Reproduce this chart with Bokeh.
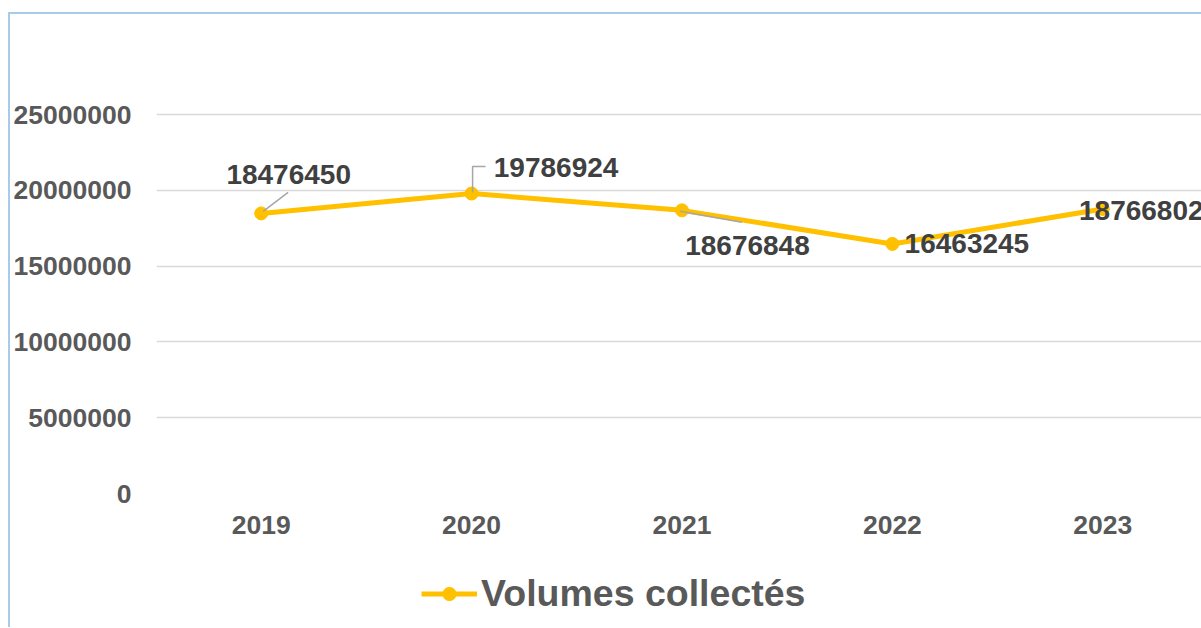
from bokeh.plotting import figure
from bokeh.layouts import column
from bokeh.models import (ColumnDataSource, LabelSet, FixedTicker, Range1d, Legend,
                          LegendItem, NumeralTickFormatter)
from bokeh.embed import file_html
from bokeh.resources import INLINE
from bokeh.core.properties import value

# ---- data ----
years = ["2019", "2020", "2021", "2022", "2023"]
volumes = [18476450, 19786924, 18676848, 16463245, 18766802]
y_ticks = [0, 5000000, 10000000, 15000000, 20000000, 25000000]
series_name = "Volumes collectés"

# ---- layout ----
OX, OY = 12, 15          # where the canvas starts on the page (after css offset)
W = 1201 - OX + 2
H_MAIN = 560 - OY
H_LEG = 628 - 560
ML, MR, MT = 155 - OX, 0, 0
MB = H_MAIN - (494 - OY)
frame_w = W - ML - MR
frame_h = H_MAIN - MT - MB
px_per_cat = 211.0
px_per_val = 379.0 / 25000000
x_start = -105.0 / px_per_cat
x_end = x_start + frame_w / px_per_cat
y_end = frame_h / px_per_val

FONT = "Liberation Sans"
GREY = "#595959"
DARK = "#404040"
GOLD = "#FFC000"

p = figure(width=W, height=H_MAIN, output_backend="svg", toolbar_location=None,
           x_range=Range1d(x_start, x_end), y_range=Range1d(0, y_end),
           min_border_left=ML, min_border_right=MR, min_border_top=MT,
           min_border_bottom=MB)
p.outline_line_color = None
p.background_fill_color = "white"
p.border_fill_color = "white"

xs = list(range(len(years)))

# axes
p.xaxis.ticker = FixedTicker(ticks=xs)
p.xaxis.major_label_overrides = {i: y for i, y in enumerate(years)}
p.yaxis.ticker = FixedTicker(ticks=y_ticks)
p.yaxis.formatter = NumeralTickFormatter(format="0")
for ax in (p.xaxis[0], p.yaxis[0]):
    ax.axis_line_color = None
    ax.major_tick_line_color = None
    ax.minor_tick_line_color = None
    ax.major_tick_out = 0
    ax.major_tick_in = 0
    ax.major_label_text_font = FONT
    ax.major_label_text_font_style = "bold"
    ax.major_label_text_font_size = "26.5px"
    ax.major_label_text_color = GREY
p.xaxis.major_label_standoff = 22
p.yaxis.major_label_standoff = 25

p.xgrid.grid_line_color = None
p.ygrid.ticker = FixedTicker(ticks=y_ticks)
p.ygrid.grid_line_color = "#D9D9D9"
p.ygrid.grid_line_width = 1.3

# leader lines (pixel offsets converted to data units)
leaders = {0: [(2, 2), (27, 21)],
           1: [(1, 1), (1, 27), (14, 27)],
           2: [(-2, -1), (60, -12)]}
lxs, lys = [], []
for i, pts in leaders.items():
    lxs.append([xs[i] + dx / px_per_cat for dx, dy in pts])
    lys.append([volumes[i] + dy / px_per_val for dx, dy in pts])

src = ColumnDataSource(dict(x=xs, y=volumes, txt=[str(v) for v in volumes],
                            xo=[27.5, 84.5, 65.5, 74.5, 38.5],
                            yo=[39, 26, -35, 0, -2]))

p.line("x", "y", source=src, line_color=GOLD, line_width=5)
p.scatter("x", "y", source=src, size=13, fill_color=GOLD, line_color=GOLD)
p.multi_line(lxs, lys, line_color="#A6A6A6", line_width=1.5)

labels = LabelSet(x="x", y="y", text="txt", source=src, x_offset="xo", y_offset="yo",
                  text_align="center", text_baseline="middle",
                  text_font=value(FONT), text_font_style="bold",
                  text_font_size="28px", text_color=DARK)
p.add_layout(labels)

# ---- legend strip (second figure; same series, drawn out of its view) ----
lf = figure(width=W, height=H_LEG, output_backend="svg", toolbar_location=None,
            x_range=Range1d(x_start, x_end), y_range=Range1d(-1, 0),
            x_axis_type=None, y_axis_type=None,
            min_border_left=0, min_border_right=0, min_border_top=0, min_border_bottom=0)
lf.outline_line_color = None
lf.xgrid.visible = False
lf.ygrid.visible = False
lf.border_fill_color = "white"
lf_line = lf.line("x", "y", source=src, line_color=GOLD, line_width=5)
lf_pt = lf.scatter("x", "y", source=src, size=13, fill_color=GOLD, line_color=GOLD)

# frame of this strip is aligned with the main frame
legend = Legend(items=[LegendItem(label=series_name, renderers=[lf_line, lf_pt])],
                location=(422 - 157, 12), orientation="horizontal",
                glyph_width=56, glyph_height=33, label_standoff=4,
                padding=0, margin=0, spacing=0,
                border_line_color=None, background_fill_alpha=0,
                label_text_font=FONT, label_text_font_style="bold",
                label_text_font_size="37.5px", label_text_color=GREY,
                label_text_baseline="middle")
lf.add_layout(legend, "center")

layout = column(p, lf, spacing=0,
                styles={"margin-left": "8px", "margin-top": "12px",
                        "border-left": "2px solid #A9CBEA",
                        "border-top": "2px solid #A9CBEA"})

open("out.html", "w").write(file_html(layout, INLINE))
